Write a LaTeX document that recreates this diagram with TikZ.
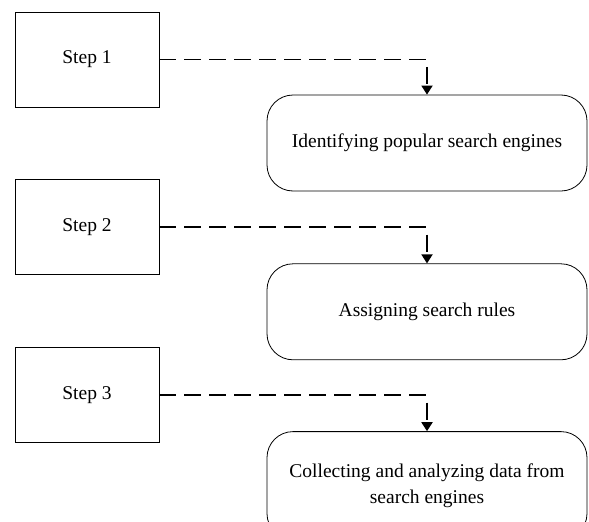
\documentclass[tikz,border=0pt]{standalone}
\usepackage{fontspec}
\setmainfont{Liberation Serif}
\usetikzlibrary{arrows.meta, positioning}

\begin{document}
\begin{tikzpicture}[
  x=1pt, y=-1pt,
  font=\fontsize{19.5}{26}\selectfont,
  stepbox/.style = {draw, line width=0.8pt, minimum width=144pt, minimum height=95pt, inner sep=0pt},
  task/.style = {draw, line width=0.8pt, minimum width=320pt, minimum height=96pt, align=center, rounded corners=26pt},
  link/.style = {line width=1.8pt, dash pattern=on 17pt off 8pt, -{Triangle[width=11pt, length=9pt]}}
]
\useasboundingbox (0,0) rectangle (589,522);

% Nodes
\node[stepbox] (step1) at (87,59.5) {Step 1};
\node[stepbox, below=72pt of step1] (step2) {Step 2};
\node[stepbox, below=72pt of step2] (step3) {Step 3};
\node[task] (task1) at (427,143) {Identifying popular search engines};
\node[task, below=72pt of task1] (task2) {Assigning search rules};
\node[task, below=71pt of task2, minimum height=108pt] (task3) {Collecting and analyzing data from\\search engines};

% Connections
\foreach \i in {1,2,3} {
  \draw[link] (step\i.east) -| (task\i.north);
}

\end{tikzpicture}
\end{document}
